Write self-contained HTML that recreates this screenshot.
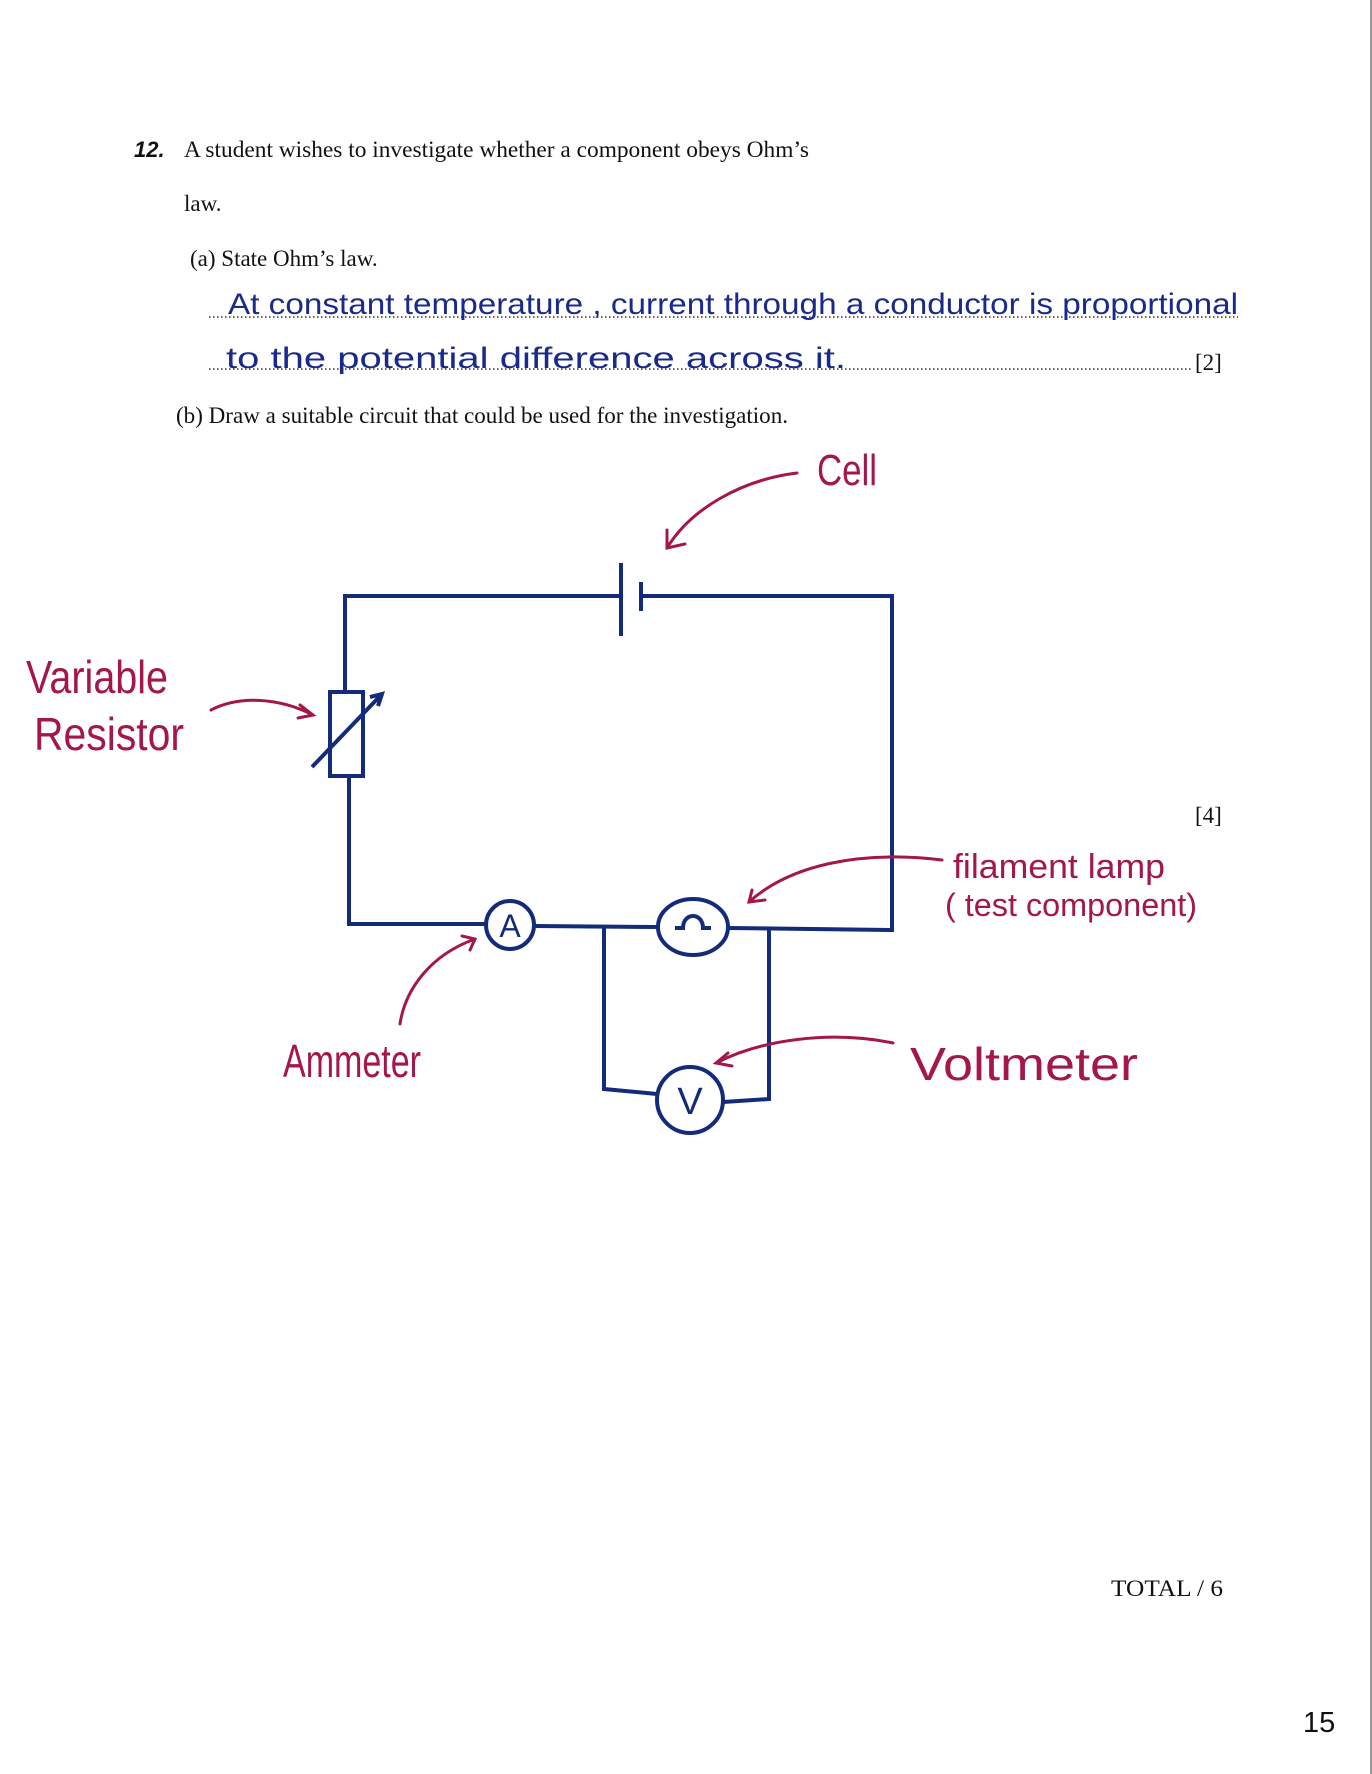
<!DOCTYPE html>
<html><head><meta charset="utf-8"><style>
html,body{margin:0;padding:0;background:#fff;}
svg{display:block;}
.t{font-family:"Liberation Serif",serif;font-size:23px;fill:#111;}
.h{font-family:"Liberation Sans",sans-serif;fill:#1a2a8a;font-size:30px;}
.r{font-family:"Liberation Sans",sans-serif;fill:#a3174a;}
</style></head><body>
<svg width="1372" height="1774" viewBox="0 0 1372 1774" xmlns="http://www.w3.org/2000/svg">
<rect width="1372" height="1774" fill="#fff"/>
<line x1="1371" y1="0" x2="1371" y2="1774" stroke="#999" stroke-width="2"/>
<text x="134" y="157" style="font-family:'Liberation Sans',sans-serif;font-size:22px;font-weight:bold;font-style:italic" fill="#111">12.</text>
<text class="t" x="184" y="157" textLength="625" lengthAdjust="spacingAndGlyphs">A student wishes to investigate whether a component obeys Ohm’s</text>
<text class="t" x="184" y="211">law.</text>
<text class="t" x="190" y="266">(a) State Ohm’s law.</text>
<line x1="209" y1="317" x2="1238" y2="317" stroke="#333" stroke-width="1.5" stroke-dasharray="1.5 2.5"/>
<line x1="209" y1="369" x2="1191" y2="369" stroke="#333" stroke-width="1.5" stroke-dasharray="1.5 2.5"/>
<text class="h" x="228" y="314" textLength="1010" lengthAdjust="spacingAndGlyphs">At  constant  temperature ,  current  through   a  conductor  is  proportional</text>
<text class="h" x="226" y="368" textLength="620" lengthAdjust="spacingAndGlyphs">to  the  potential   difference   across  it.</text>
<text class="t" x="1195" y="370">[2]</text>
<text class="t" x="176" y="423" textLength="612" lengthAdjust="spacingAndGlyphs">(b) Draw a suitable circuit that could be used for the investigation.</text>
<text class="t" x="1195" y="823">[4]</text>
<g stroke="#142a7a" stroke-width="4" fill="none">
<polyline points="621,596 345,596 345,692"/>
<polyline points="641,596 892,596 892,930 728,928"/>
<line x1="621" y1="563" x2="621" y2="636"/>
<line x1="641" y1="582" x2="641" y2="611"/>
<rect x="330" y="692" width="33" height="84"/>
<polyline points="349,776 349,924 486,924"/>
<circle cx="510" cy="925" r="24"/>
<line x1="534" y1="926" x2="658" y2="927"/>
<ellipse cx="693" cy="927" rx="35" ry="28"/>
<path d="M675,928 L683,928 C683,912 703,912 703,928 L711,928"/>
<polyline points="604,927 604,1089 657,1094"/>
<polyline points="769,930 769,1099 723,1102"/>
<circle cx="690" cy="1100" r="33"/>
<line x1="312" y1="767" x2="382" y2="694"/>
<polyline points="370,697 382,694 378,706"/>
</g>
<text x="510" y="937" text-anchor="middle" style="font-family:'Liberation Sans',sans-serif;font-size:32px" fill="#142a7a">A</text>
<text x="690" y="1114" text-anchor="middle" style="font-family:'Liberation Sans',sans-serif;font-size:38px" fill="#142a7a">V</text>
<g stroke="#a3174a" stroke-width="3" fill="none" stroke-linecap="round">
<path d="M797,473 C740,480 690,510 667,548"/>
<polyline points="667,530 667,548 685,544"/>
<path d="M211,710 C240,695 280,698 313,715"/>
<polyline points="300,705 313,715 298,718"/>
<path d="M942,860 C860,850 790,865 749,902"/>
<polyline points="752,890 749,902 765,900"/>
<path d="M400,1024 C405,990 430,955 475,939"/>
<polyline points="462,936 475,939 470,950"/>
<path d="M893,1043 C830,1030 760,1040 716,1063"/>
<polyline points="728,1053 716,1063 732,1066"/>
</g>
<text class="r" x="817" y="485" style="font-size:44px" textLength="60" lengthAdjust="spacingAndGlyphs">Cell</text>
<text class="r" x="26" y="693" style="font-size:46px" textLength="142" lengthAdjust="spacingAndGlyphs">Variable</text>
<text class="r" x="34" y="750" style="font-size:46px" textLength="150" lengthAdjust="spacingAndGlyphs">Resistor</text>
<text class="r" x="953" y="878" style="font-size:34px" textLength="212" lengthAdjust="spacingAndGlyphs">filament  lamp</text>
<text class="r" x="945" y="916" style="font-size:32px" textLength="252" lengthAdjust="spacingAndGlyphs">( test  component)</text>
<text class="r" x="283" y="1077" style="font-size:46px" textLength="138" lengthAdjust="spacingAndGlyphs">Ammeter</text>
<text class="r" x="910" y="1080" style="font-size:46px" textLength="228" lengthAdjust="spacingAndGlyphs">Voltmeter</text>
<text class="t" x="1111" y="1596" textLength="112" lengthAdjust="spacingAndGlyphs">TOTAL  / 6</text>
<text x="1303" y="1732" style="font-family:'Liberation Sans',sans-serif;font-size:29px" fill="#111">15</text>
</svg>
</body></html>
